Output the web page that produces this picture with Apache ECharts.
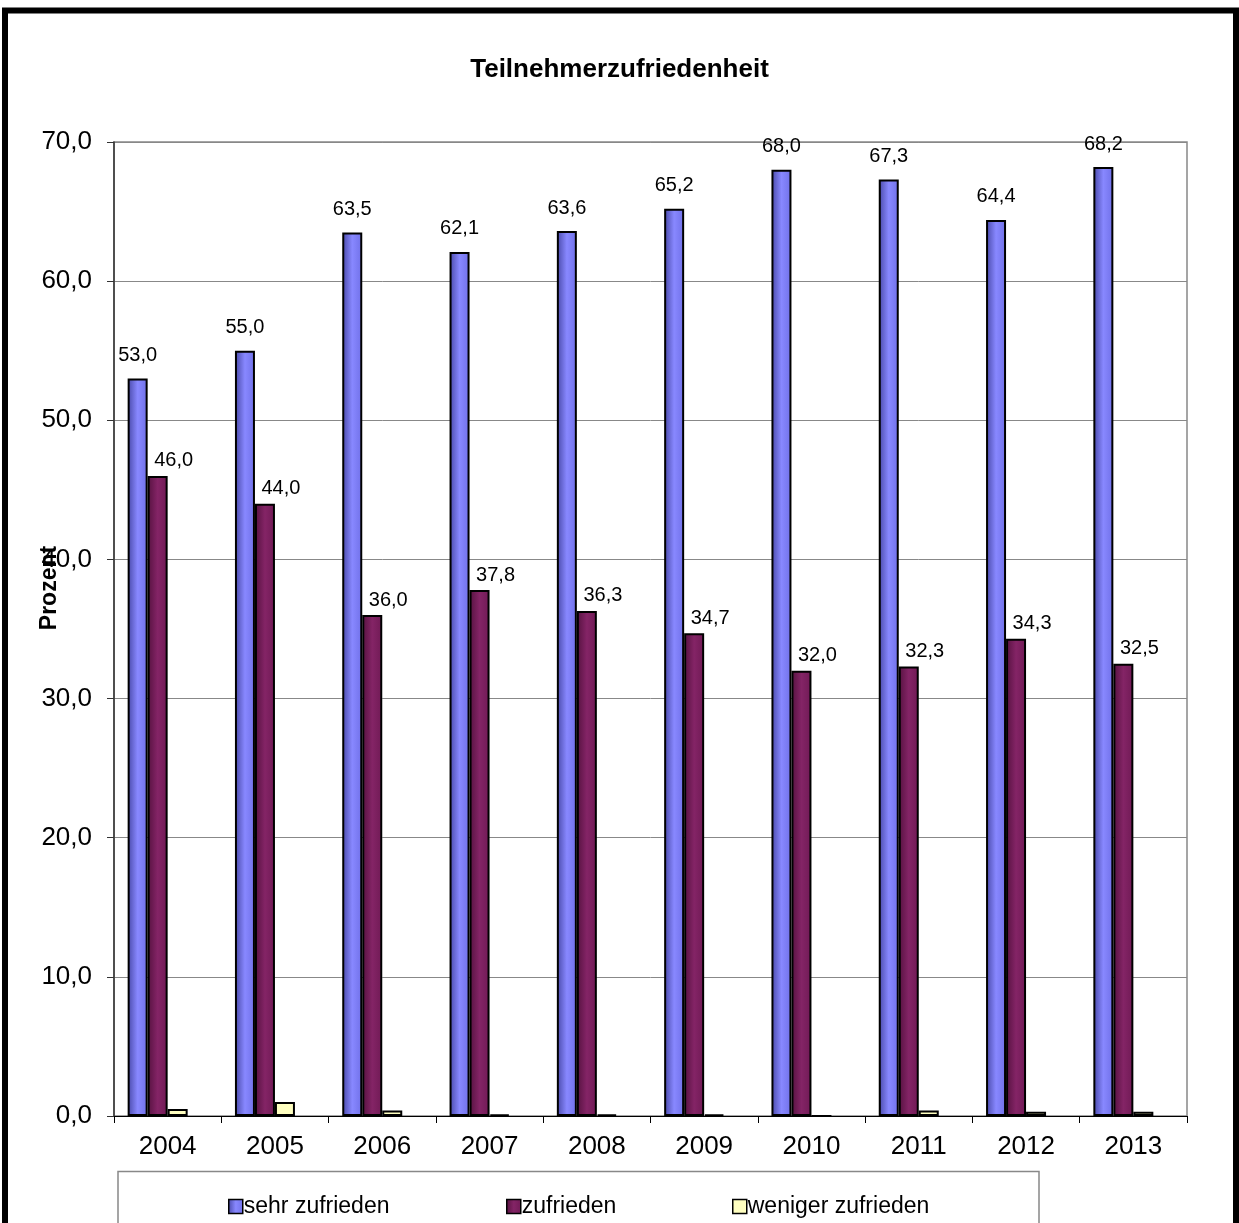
<!DOCTYPE html>
<html>
<head>
<meta charset="utf-8">
<script src="https://cdn.jsdelivr.net/npm/echarts@6/dist/echarts.min.js"></script>
<style>
html,body{margin:0;padding:0;background:#fff;}
#c{width:1239px;height:1223px;}
</style>
</head>
<body>
<div id="c"></div>
<script>
const years = ['2004','2005','2006','2007','2008','2009','2010','2011','2012','2013'];
const sehrZufrieden = [53.0,55.0,63.5,62.1,63.6,65.2,68.0,67.3,64.4,68.2];
const zufrieden = [46.0,44.0,36.0,37.8,36.3,34.7,32.0,32.3,34.3,32.5];
const wenigerZufrieden = [0.5,1.0,0.4,0.1,0.1,0.1,0.0,0.4,0.3,0.3];
const seriesNames = ['sehr zufrieden','zufrieden','weniger zufrieden'];
const yTicks = {min:0, max:70, interval:10};

const fmt = v => Number(v).toFixed(1).replace('.', ',');
const font = '"Liberation Sans", Arial, sans-serif';

function grad(a,b,c){
  return {type:'linear',x:0,y:0,x2:1,y2:0,colorStops:[
    {offset:0,color:a},{offset:0.5,color:b},{offset:1,color:c}]};
}

const chart = echarts.init(document.getElementById('c'), null, {renderer:'canvas'});
const legendBase = {
  orient:'horizontal', top:1190, itemWidth:14, itemHeight:14, itemGap:0,
  icon:'rect', selectedMode:false,
  itemStyle:{borderColor:'#000',borderWidth:1.5},
  textStyle:{fontFamily:font,fontSize:23,color:'#000',padding:[0,0,0,-4]}
};
chart.setOption({
  backgroundColor:'#fff',
  animation:false,
  title:{text:'Teilnehmerzufriedenheit',left:'center',top:52,
    textStyle:{fontFamily:font,fontSize:26,fontWeight:'bold',color:'#000'}},
  legend:[
    Object.assign({}, legendBase, {left:223, data:[seriesNames[0]]}),
    Object.assign({}, legendBase, {left:501, data:[seriesNames[1]]}),
    Object.assign({}, legendBase, {left:727, data:[seriesNames[2]]})
  ],
  grid:{left:114,right:52,top:142,bottom:107,show:true,borderColor:'#888',borderWidth:1.5},
  xAxis:{type:'category',data:years,
    axisLine:{lineStyle:{color:'#000',width:1}},
    axisTick:{show:true,length:7,lineStyle:{color:'#000'}},
    axisLabel:{fontFamily:font,fontSize:26,color:'#000',margin:18}},
  yAxis:{type:'value',min:yTicks.min,max:yTicks.max,interval:yTicks.interval,
    axisLine:{show:true,lineStyle:{color:'#333',width:1.5}},
    axisTick:{show:true,length:7,inside:false,lineStyle:{color:'#333'}},
    splitLine:{lineStyle:{color:'#888',width:1}},
    axisLabel:{fontFamily:font,fontSize:26,color:'#000',margin:22,formatter:v=>fmt(v)}},
  series:[
    {name:seriesNames[0],type:'bar',data:sehrZufrieden,barWidth:20,barGap:'0%',
     itemStyle:{color:grad('#4848a8','#8888ff','#7070e8'),borderColor:'#000',borderWidth:2},
     label:{show:true,position:'top',distance:5,offset:[0,-8],formatter:p=>fmt(p.value),
       fontFamily:font,fontSize:20,color:'#000'}},
    {name:seriesNames[1],type:'bar',data:zufrieden,barWidth:20,barGap:'0%',
     itemStyle:{color:grad('#561240','#842466','#701a55'),borderColor:'#000',borderWidth:2},
     label:{show:true,position:'top',distance:5,offset:[16,0],formatter:p=>fmt(p.value),
       fontFamily:font,fontSize:20,color:'#000'}},
    {name:seriesNames[2],type:'bar',data:wenigerZufrieden,barWidth:20,barGap:'0%',
     itemStyle:{color:'#ffffc0',borderColor:'#000',borderWidth:2},
     label:{show:false}},
    {name:'_leer',type:'bar',data:[],barWidth:20,barGap:'0%',silent:true}
  ],
  graphic:[
    {type:'rect',z:-1,shape:{x:5,y:10.5,width:1231,height:1300},
     style:{fill:'none',stroke:'#000',lineWidth:6}},
    {type:'rect',z:-1,shape:{x:118,y:1171.5,width:921,height:80},
     style:{fill:'none',stroke:'#888',lineWidth:1.5}},
    {type:'text',z:10,x:50,y:588,rotation:Math.PI/2,
     style:{text:'Prozent',fontFamily:font,fontSize:23,fontWeight:'bold',fill:'#000',
       align:'center',verticalAlign:'middle'}}
  ]
});
</script>
</body>
</html>
